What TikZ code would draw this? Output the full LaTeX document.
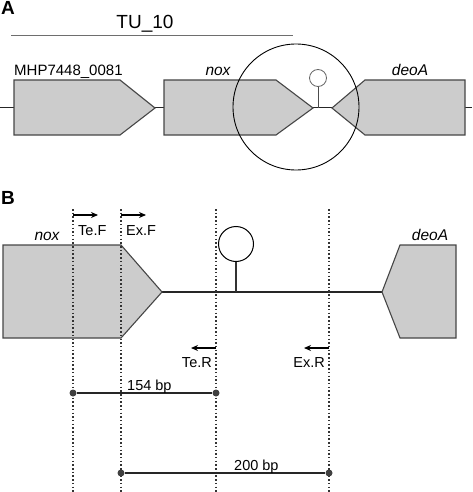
\documentclass[tikz,border=0pt]{standalone}
\usepackage{fontspec}
\setmainfont{Liberation Sans}
\usetikzlibrary{positioning,arrows.meta}
\definecolor{genefill}{RGB}{204,204,204}
\definecolor{geneline}{RGB}{70,70,70}
\definecolor{tuline}{RGB}{110,110,110}

\begin{document}
\begin{tikzpicture}[
            >={Stealth[length=7pt,width=6pt]},
            x=1pt, y=-1pt,
            genebox/.style={fill=genefill, draw=geneline, line width=1.1pt, line join=miter},
            backbone/.style={draw=black!85, line width=1pt},
            primerline/.style={draw=black!80, line width=1.3pt, dash pattern=on 1.5pt off 2.2pt},
            primerarrow/.style={->, line width=1.3pt},
            genelabel/.style={font=\fontsize{15.5}{18}\selectfont, inner sep=0pt},
            smalllabel/.style={font=\fontsize{14.5}{17}\selectfont, inner sep=0pt},
            panellabel/.style={font=\fontsize{19}{21}\selectfont\bfseries, inner sep=0pt},
            bpdot/.style={circle, fill=black!75, inner sep=0pt, minimum size=7pt}
        ]
        \useasboundingbox (0,0) rectangle (472,492);

        %% Panel A: operon overview

        \def\rowA{108};
        \def\topA{80};
        \def\botA{135};

        \node[panellabel, anchor=north west] (panelA) at (1,1) {A};
        \node[genelabel, font=\fontsize{19}{22}\selectfont, anchor=base] (tulabel) at (145,29) {TU\_10};
        \coordinate (tu_start) at (11,35);
        \coordinate (tu_end) at (293,35);
        \draw[tuline, line width=0.8pt] (tu_start) -- (tu_end);

        \coordinate (bbA_start) at (0,\rowA);
        \coordinate (bbA_end) at (472,\rowA);
        \draw[backbone] (bbA_start) -- (bbA_end);

        % genes
        \draw[genebox] (14,\topA) -- (120,\topA) -- (155,\rowA) -- (120,\botA) -- (14,\botA) -- cycle;
        \draw[genebox] (164,\topA) -- (276,\topA) -- (313,\rowA) -- (276,\botA) -- (164,\botA) -- cycle;
        \draw[genebox] (465,\topA) -- (365,\topA) -- (332,\rowA) -- (365,\botA) -- (465,\botA) -- cycle;

        \node[genelabel, font=\fontsize{15}{18}\selectfont, anchor=base west] (mhplabel) at (14,76) {MHP7448\_0081};
        \node[genelabel, anchor=base] (noxlabelA) at (218,76) {\itshape nox};
        \node[genelabel, anchor=base] (deolabelA) at (410,76) {\itshape deoA};

        % terminator
        \coordinate (termA_foot) at (318,\rowA);
        \node[circle, draw=black!60, line width=0.8pt, minimum size=17pt, inner sep=0pt] (termA) at (318,78) {};
        \draw[draw=black!70, line width=0.8pt] (termA_foot) -- (termA.south);

        % zoom circle
        \node[circle, draw=black, line width=0.9pt, minimum size=126pt, inner sep=0pt] (zoomcircle) at (296,107) {};

        %% Panel B: intergenic region

        \def\rowB{292};
        \def\topB{245};
        \def\botB{338};

        \node[panellabel, anchor=north west] (panelB) at (1,191) {B};

        \coordinate (bbB_start) at (162,\rowB);
        \coordinate (bbB_end) at (382,\rowB);
        \draw[backbone, line width=1.6pt] (bbB_start) -- (bbB_end);

        \draw[genebox] (3,\topB) -- (121,\topB) -- (162,\rowB) -- (121,\botB) -- (3,\botB) -- cycle;
        \draw[genebox] (456,\topB) -- (400,\topB) -- (382,\rowB) -- (400,\botB) -- (456,\botB) -- cycle;

        \node[genelabel, anchor=base] (noxlabelB) at (47,240) {\itshape nox};
        \node[genelabel, anchor=base] (deolabelB) at (430,240) {\itshape deoA};

        % terminator
        \coordinate (termB_foot) at (236,\rowB);
        \node[circle, draw=black, line width=1pt, minimum size=35pt, inner sep=0pt] (termB) at (236,244) {};
        \draw[draw=black!80, line width=1.1pt] (termB_foot) -- (termB.south);

        % primer positions
        \foreach \name/\xpos in {tef/73, exf/121, ter/216, exr/329} {
            \coordinate (\name_top) at (\xpos,209);
            \coordinate (\name_bot) at (\xpos,492);
            \draw[primerline] (\name_top) -- (\name_bot);
        }

        \coordinate (tef_from) at (73,215);  \coordinate (tef_to) at (98,215);
        \coordinate (exf_from) at (121,215); \coordinate (exf_to) at (146,215);
        \coordinate (ter_from) at (216,348); \coordinate (ter_to) at (191,348);
        \coordinate (exr_from) at (329,348); \coordinate (exr_to) at (304,348);
        \draw[primerarrow] (tef_from) -- (tef_to);
        \draw[primerarrow] (exf_from) -- (exf_to);
        \draw[primerarrow] (ter_from) -- (ter_to);
        \draw[primerarrow] (exr_from) -- (exr_to);

        \node[smalllabel, anchor=base west] (teflabel) at (78,235) {Te.F};
        \node[smalllabel, anchor=base west] (exflabel) at (126,235) {Ex.F};
        \node[smalllabel, anchor=base east] (terlabel) at (212,367) {Te.R};
        \node[smalllabel, anchor=base east] (exrlabel) at (325,367) {Ex.R};

        % product sizes
        \node[bpdot] (te_left) at (73,393) {};
        \node[bpdot] (te_right) at (216,393) {};
        \draw[line width=1.1pt, black!85] (te_left) -- (te_right);
        \node[smalllabel, anchor=base west] (telength) at (127,390) {154 bp};

        \node[bpdot] (ex_left) at (121,473) {};
        \node[bpdot] (ex_right) at (329,473) {};
        \draw[line width=1.1pt, black!85] (ex_left) -- (ex_right);
        \node[smalllabel, anchor=base west] (exlength) at (234,470) {200 bp};

    \end{tikzpicture}
\end{document}
